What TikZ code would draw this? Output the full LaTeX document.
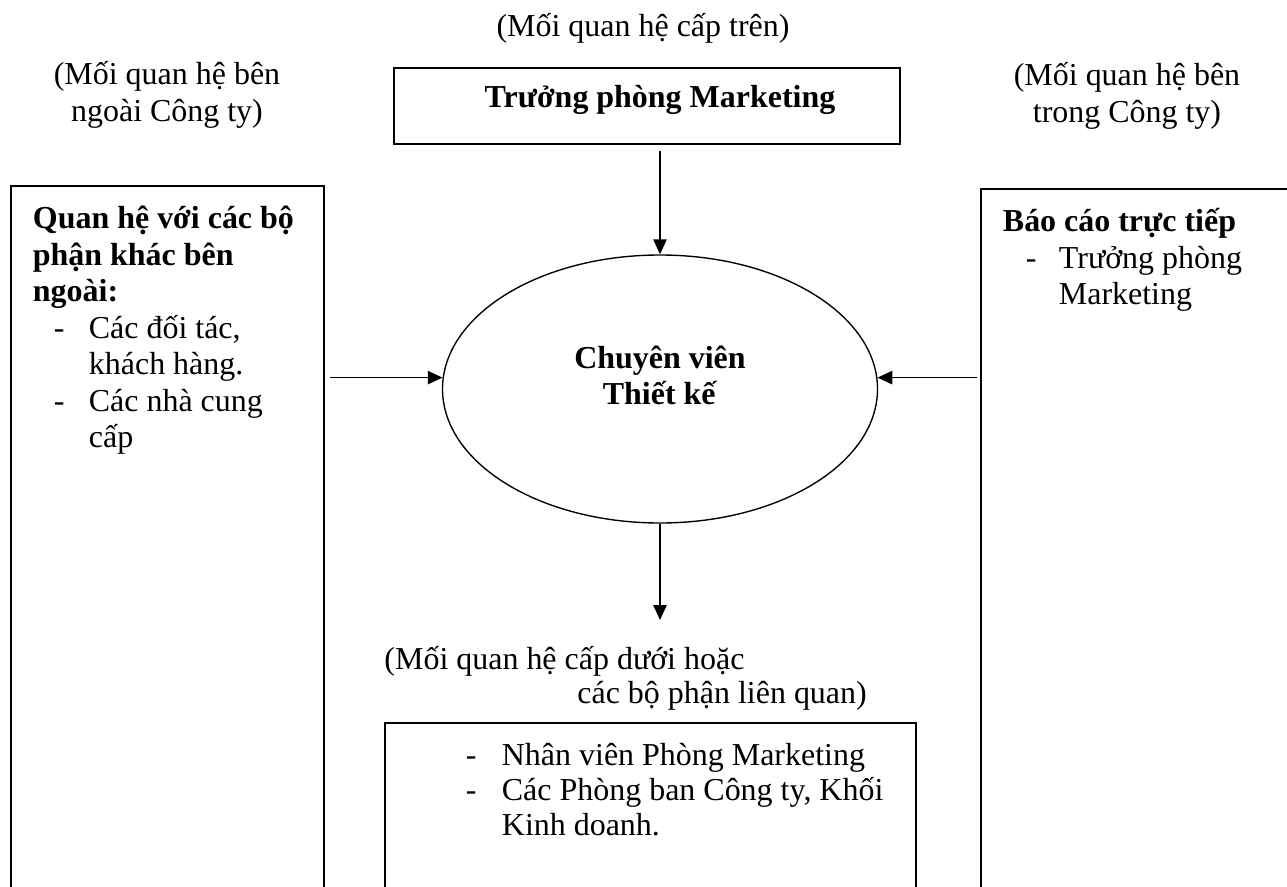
\documentclass[tikz,border=0pt]{standalone}
\usepackage{fontspec}
\setmainfont{Liberation Serif}
\usetikzlibrary{positioning,shapes.geometric,arrows.meta}

\newlength\px
\setlength\px{0.438pt}
\newcommand{\dashitem}[3]{\hspace{#1\px}\makebox[#2\px][l]{-}#3}

\begin{document}
\begin{tikzpicture}[
x=0.438pt, y=-0.438pt,
font=\fontsize{14pt}{16pt}\selectfont,
>={Triangle[length=6.5pt,width=5.8pt]},
note/.style={inner sep=0pt, align=center},
headbox/.style={rectangle, draw=black, line width=0.8pt, minimum width=506\px, minimum height=76\px},
oval/.style={ellipse, draw=black, line width=0.6pt, inner sep=0pt, minimum width=435\px, minimum height=268\px},
listbox/.style={rectangle, draw=black, line width=0.8pt, anchor=north west, inner xsep=22\px, inner ysep=17\px},
link/.style={->, line width=0.7pt}
]
\useasboundingbox (0,0) rectangle (1287,886);
\clip (0,0) rectangle (1287,886);

\node[note](upper_lbl) at (643,28){(Mối quan hệ cấp trên)};
\node[note](ext_lbl) at (167,95){(Mối quan hệ bên\\ngoài Công ty)};
\node[note](int_lbl) at (1127,96){(Mối quan hệ bên\\trong Công ty)};

\node[headbox](manager) at (647,106){\begin{tabular}{@{\hspace{26\px}}c@{}}\textbf{Trưởng phòng Marketing}\\[12\px]\end{tabular}};
\node[oval](designer) at (660,389){\begin{tabular}{@{}c@{}}\textbf{Chuyên viên}\\\textbf{Thiết kế}\\[20\px]\end{tabular}};

% side and lower boxes run past the page edge
\node[listbox](ext_box) at (10,185){\parbox[c][760\px][t]{269\px}{\begin{tabular}{@{}l@{}}
\textbf{Quan hệ với các bộ}\\
\textbf{phận khác bên}\\
\textbf{ngoài:}\\
\dashitem{21}{35}{Các đối tác,}\\
\hspace{56\px}khách hàng.\\
\dashitem{21}{35}{Các nhà cung}\\
\hspace{56\px}cấp
\end{tabular}}};
\node[listbox](int_box) at (980,188){\parbox[c][760\px][t]{300\px}{\begin{tabular}{@{}l@{}}
\textbf{Báo cáo trực tiếp}\\
\dashitem{23}{33}{Trưởng phòng}\\
\hspace{56\px}Marketing
\end{tabular}}};

\node[note, anchor=west](lower_lbl) at (384,679){\begin{tabular}{@{}l@{}}(Mối quan hệ cấp dưới hoặc\\[-3\px]
\hspace{193\px}các bộ phận liên quan)\end{tabular}};
\node[listbox](sub_box) at (384,722){\parbox[c][400\px][t]{487\px}{\begin{tabular}{@{}l@{}}
\dashitem{59}{36}{Nhân viên Phòng Marketing}\\[-1.5\px]
\dashitem{59}{36}{Các Phòng ban Công ty, Khối}\\[-1.5\px]
\hspace{95\px}Kinh doanh.
\end{tabular}}};

\coordinate (sub_tip) at (660,620);

\draw[link, shorten <=6\px] (manager.south -| designer.north) -- (designer.north);
\draw[link, shorten <=5\px] (ext_box.east |- designer.177) -- (designer.177);
\draw[link, shorten <=3\px] (int_box.west |- designer.3) -- (designer.3);
\draw[link] (designer.south) -- (sub_tip);
\end{tikzpicture}
\end{document}
